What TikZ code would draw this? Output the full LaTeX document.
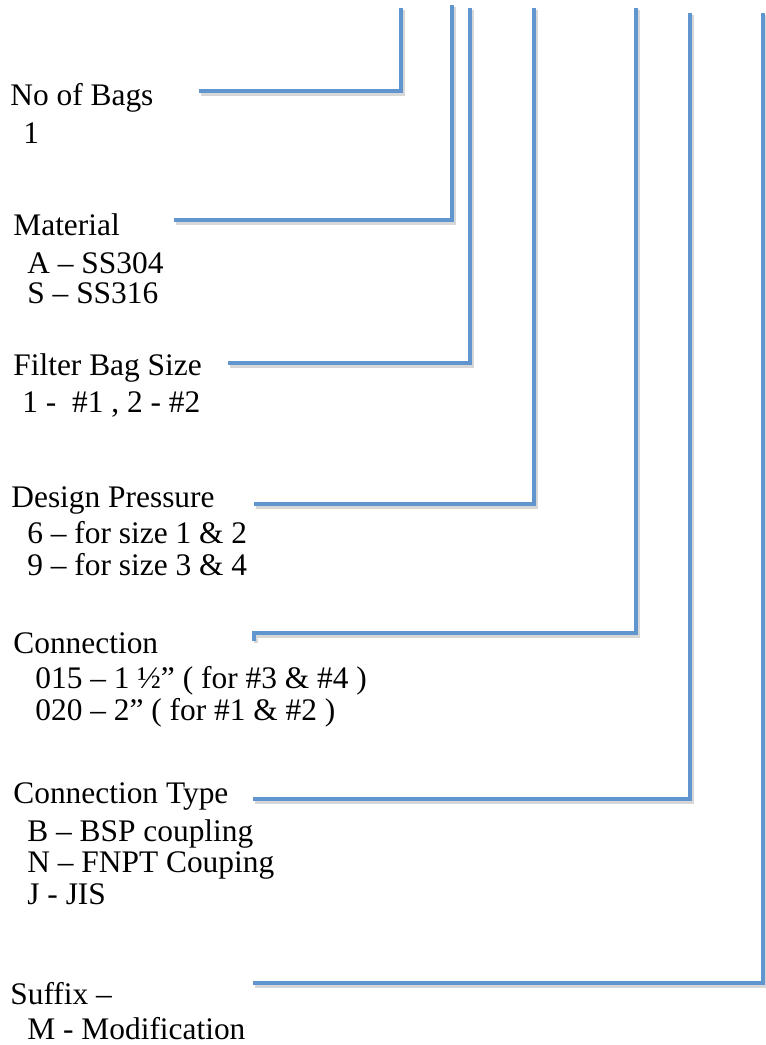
\documentclass[tikz,border=0pt]{standalone}
\usepackage{fontspec}
\setmainfont{Liberation Serif}
\definecolor{leadblue}{RGB}{96,150,205}

\begin{document}
\begin{tikzpicture}[
    x=0.5pt, y=-0.5pt,
    lbl/.style={anchor=base west, inner sep=0pt, font=\fontsize{15.7}{18}\selectfont},
    lead/.style={draw=leadblue, line width=2pt, line join=miter,
                 preaction={draw=black!45, line width=2.4pt, opacity=.35,
                            transform canvas={xshift=1pt, yshift=-1.2pt}}}
]
\useasboundingbox (0,0) rectangle (766,1045);
% field descriptions
\node[lbl] (nob)  at (10,105)  {No of Bags};
\node[lbl] (nob1) at (23,143)  {1};
\node[lbl] (mat)  at (13,235)  {Material};
\node[lbl] (mat1) at (27,273)  {A – SS304};
\node[lbl] (mat2) at (27,303)  {S – SS316};
\node[lbl] (fbs)  at (13,375)  {Filter Bag Size};
\node[lbl] (fbs1) at (22,412)  {1 -~~\#1 , 2 - \#2};
\node[lbl] (dp)   at (11,507)  {Design Pressure};
\node[lbl] (dp1)  at (27,543)  {6 – for size 1 \& 2};
\node[lbl] (dp2)  at (27,575)  {9 – for size 3 \& 4};
\node[lbl] (con)  at (13,653)  {Connection};
\node[lbl] (con1) at (35,688)  {015 – 1 ½” ( for \#3 \& \#4 )};
\node[lbl] (con2) at (35,720)  {020 – 2” ( for \#1 \& \#2 )};
\node[lbl] (ct)   at (13,803)  {Connection Type};
\node[lbl] (ct1)  at (27,841)  {B – BSP coupling};
\node[lbl] (ct2)  at (27,872)  {N – FNPT Couping};
\node[lbl] (ct3)  at (27,904)  {J - JIS};
\node[lbl] (suf)  at (10,1004) {Suffix –};
\node[lbl] (suf1) at (27,1039) {M - Modification};
% leader ends
\coordinate (s1) at (199,91);   \coordinate (t1) at (401,8);
\coordinate (s2) at (174,220);  \coordinate (t2) at (452,5);
\coordinate (s3) at (228,363);  \coordinate (t3) at (470,8);
\coordinate (s4) at (254,504);  \coordinate (t4) at (534,8);
\coordinate (s5) at (254,641);  \coordinate (t5) at (636,8);
\coordinate (s6) at (253,799);  \coordinate (t6) at (690,13);
\coordinate (s7) at (253,983);  \coordinate (t7) at (763,13);
\draw[lead] (s1) -| (t1);
\draw[lead] (s2) -| (t2);
\draw[lead] (s3) -| (t3);
\draw[lead] (s4) -| (t4);
\draw[lead] (s5) -- ++(0,-8) -| (t5);
\draw[lead] (s6) -| (t6);
\draw[lead] (s7) -| (t7);
\end{tikzpicture}
\end{document}
